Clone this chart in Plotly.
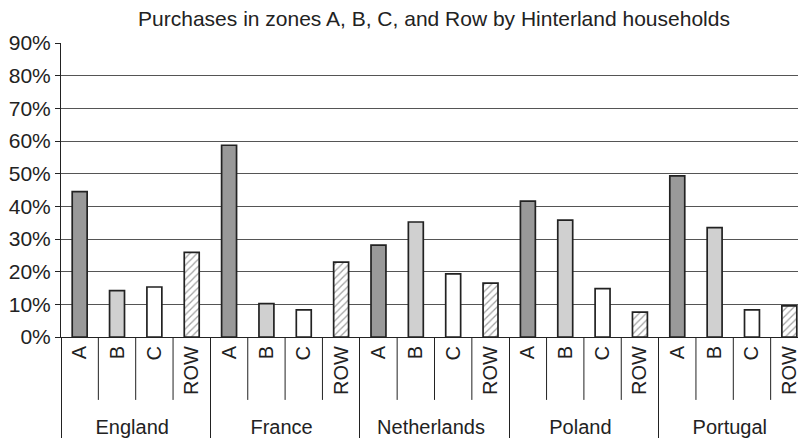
import plotly.graph_objects as go

# data
countries = ["England", "France", "Netherlands", "Poland", "Portugal"]
zones = ["A", "B", "C", "ROW"]
shares = {
    "England":     [0.445, 0.142, 0.153, 0.259],
    "France":      [0.587, 0.102, 0.083, 0.229],
    "Netherlands": [0.281, 0.352, 0.193, 0.165],
    "Poland":      [0.416, 0.358, 0.148, 0.076],
    "Portugal":    [0.493, 0.335, 0.083, 0.095],
}

zone_fill = {"A": "#999999", "B": "#d0d0d0", "C": "#ffffff", "ROW": "#ffffff"}
zone_pattern = {"A": "", "B": "", "C": "", "ROW": "/"}

outer, inner, vals, fills, pats = [], [], [], [], []
for c in countries:
    for z, v in zip(zones, shares[c]):
        outer.append(c)
        inner.append(z)
        vals.append(v)
        fills.append(zone_fill[z])
        pats.append(zone_pattern[z])

fig = go.Figure()
fig.add_trace(go.Bar(
    x=[outer, inner],
    y=vals,
    marker=dict(
        color=fills,
        line=dict(color="#222222", width=1.7),
        pattern=dict(shape=pats, fgcolor="#aaaaaa", bgcolor="#ffffff", size=5, solidity=0.25),
    ),
    showlegend=False,
))

# short separators between the zone labels
n = len(vals)
for i in range(n - 1):
    if (i + 1) % len(zones) == 0:
        continue
    fig.add_shape(type="line", xref="x", yref="paper", x0=i + 0.5, x1=i + 0.5,
                  y0=0, y1=-0.214, line=dict(color="#222222", width=1))

# the page body adds an 8px offset, margins are set to make up for it
fig.update_layout(
    width=806, height=445,
    margin=dict(l=53, r=6, t=35, b=116),
    paper_bgcolor="white", plot_bgcolor="white",
    font=dict(family="Liberation Sans, Arial, sans-serif", size=20, color="#222222"),
    title=dict(text="Purchases in zones A, B, C, and Row by Hinterland households",
               x=426 / 806, xanchor="center", y=1 - 3 / 445, yanchor="top",
               pad=dict(t=0, b=0),
               font=dict(size=21, color="#222222")),
    bargap=0.6,
)
fig.update_yaxes(
    range=[0, 0.9], dtick=0.1, tickformat=".0%",
    showgrid=True, gridcolor="#555555", gridwidth=1,
    showline=True, linecolor="#222222", linewidth=1,
    ticks="outside", ticklen=5, tickcolor="#222222",
    tickfont=dict(size=21),
    zeroline=False, automargin=False,
)
fig.update_xaxes(
    type="multicategory", tickangle=-90,
    showline=True, linecolor="#222222", linewidth=1,
    showdividers=True, dividercolor="#222222", dividerwidth=1,
    ticks="", automargin=False,
)

fig.write_html("out.html")
